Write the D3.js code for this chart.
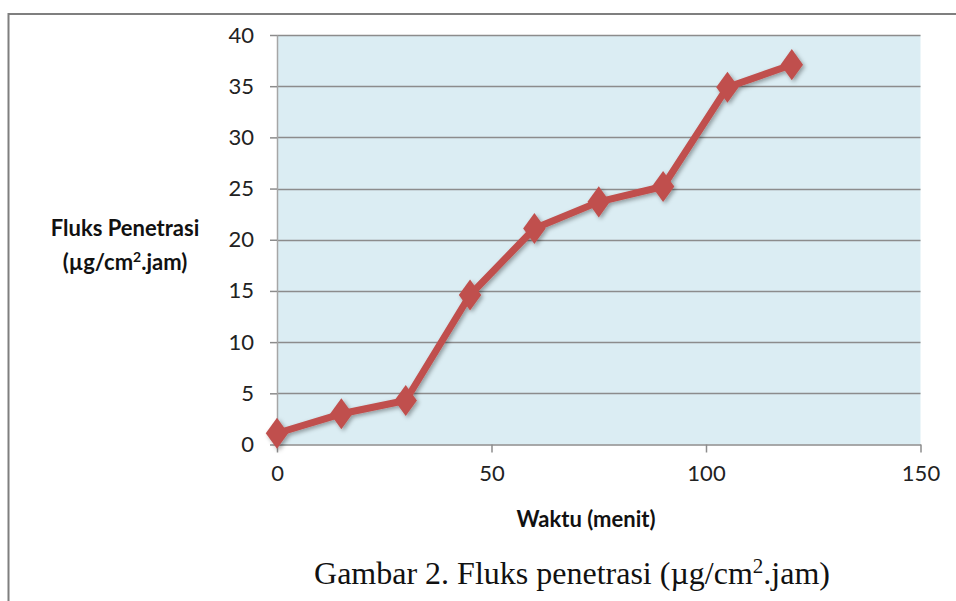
<!DOCTYPE html>
<html><head><meta charset="utf-8">
<script src="https://cdn.jsdelivr.net/npm/d3@7"></script>
<style>html,body{margin:0;padding:0;background:#fff;}</style>
</head><body>
<svg id="chart" width="956" height="601"></svg>
<script>
const waktu = [0, 15, 30, 45, 60, 75, 90, 105, 120];
const fluks = [1.1, 3.0, 4.3, 14.6, 21.1, 23.7, 25.2, 34.9, 37.1];
const xTicks = [0, 50, 100, 150];
const yTicks = [0, 5, 10, 15, 20, 25, 30, 35, 40];
const yLabelLines = ["Fluks Penetrasi", "(µg/cm", "2", ".jam)"];
const xLabel = "Waktu (menit)";

const svg = d3.select("#chart");
const L = 277, R = 920.5, T = 35, B = 444.5;
const x = d3.scaleLinear().domain([0, 150]).range([L, R]);
const y = d3.scaleLinear().domain([0, 40]).range([B, T]);

// outer frame (top & left only visible)
svg.append("line").attr("x1", 8.5).attr("x2", 956).attr("y1", 14).attr("y2", 14).attr("stroke", "#7f7f7f").attr("stroke-width", 2);
svg.append("line").attr("x1", 8.5).attr("x2", 8.5).attr("y1", 13).attr("y2", 601).attr("stroke", "#7f7f7f").attr("stroke-width", 2);

const defs = svg.append("defs");
const f = defs.append("filter").attr("id", "sh").attr("x", "-20%").attr("y", "-20%").attr("width", "140%").attr("height", "140%");
f.append("feDropShadow").attr("dx", 2).attr("dy", 2).attr("stdDeviation", 2).attr("flood-color", "#000").attr("flood-opacity", 0.35);

svg.append("rect").attr("x", L).attr("y", T).attr("width", R - L).attr("height", B - T).attr("fill", "#dbedf3");

// gridlines
svg.append("g").selectAll("line").data(yTicks.filter(d => d > 0)).join("line")
  .attr("x1", L).attr("x2", R).attr("y1", d => Math.round(y(d)) + 0.5).attr("y2", d => Math.round(y(d)) + 0.5)
  .attr("stroke", "#8c8c8c").attr("stroke-width", 1.5);

const tickFont = "Lato, 'Open Sans', sans-serif";
// y axis
const yAxis = d3.axisLeft(y).tickValues(yTicks).tickSize(7).tickPadding(16).tickSizeOuter(0);
const gy = svg.append("g").attr("transform", `translate(${L},0)`).call(yAxis);
gy.select(".domain").attr("stroke", "#a6a6a6").attr("stroke-width", 1.5);
gy.selectAll(".tick line").attr("stroke", "#8c8c8c").attr("stroke-width", 1.5);
gy.selectAll("text").attr("font-family", tickFont).attr("font-size", 22).attr("fill", "#222");

// x axis
const xAxis = d3.axisBottom(x).tickValues(xTicks).tickSize(8).tickPadding(13).tickSizeOuter(0);
const gx = svg.append("g").attr("transform", `translate(0,${B})`).call(xAxis);
gx.select(".domain").attr("stroke", "#8c8c8c").attr("stroke-width", 1.5);
gx.selectAll(".tick line").attr("stroke", "#8c8c8c").attr("stroke-width", 1.5);
gx.selectAll("text").attr("font-family", tickFont).attr("font-size", 22).attr("fill", "#222");

// line & markers
const pts = waktu.map((w, i) => [w, fluks[i]]);
const g = svg.append("g").attr("filter", "url(#sh)");
g.append("path").datum(pts)
  .attr("d", d3.line().x(d => x(d[0])).y(d => y(d[1])))
  .attr("fill", "none").attr("stroke", "#c0504d").attr("stroke-width", 7).attr("stroke-linejoin", "round");
g.selectAll("path.m").data(pts).join("path").attr("class", "m")
  .attr("d", d3.symbol().type(d3.symbolDiamond).size(280))
  .attr("transform", d => `translate(${x(d[0])},${y(d[1])}) scale(1.25,1)`)
  .attr("fill", "#c0504d");

// y label
const yl = svg.append("text").attr("font-family", tickFont).attr("font-weight", "bold").attr("font-size", 22).attr("fill", "#111").attr("text-anchor", "middle");
yl.append("tspan").attr("x", 125).attr("y", 236).text(yLabelLines[0]);
const t2 = yl.append("tspan").attr("x", 125).attr("y", 270);
t2.append("tspan").text(yLabelLines[1]);
t2.append("tspan").attr("dy", -8).attr("font-size", 14).text(yLabelLines[2]);
t2.append("tspan").attr("dy", 8).text(yLabelLines[3]);

// x label
svg.append("text").attr("x", 586).attr("y", 527).attr("text-anchor", "middle")
  .attr("font-family", tickFont).attr("font-weight", "bold").attr("font-size", 22).attr("fill", "#111").text(xLabel);

// caption
const cap = svg.append("text").attr("x", 572).attr("y", 584).attr("text-anchor", "middle")
  .attr("font-family", "'Liberation Serif', 'Times New Roman', serif").attr("font-size", 32).attr("fill", "#111");
cap.append("tspan").text("Gambar 2. Fluks penetrasi (µg/cm");
cap.append("tspan").attr("dy", -11).attr("font-size", 21).text("2");
cap.append("tspan").attr("dy", 11).text(".jam)");
</script>
</body></html>
